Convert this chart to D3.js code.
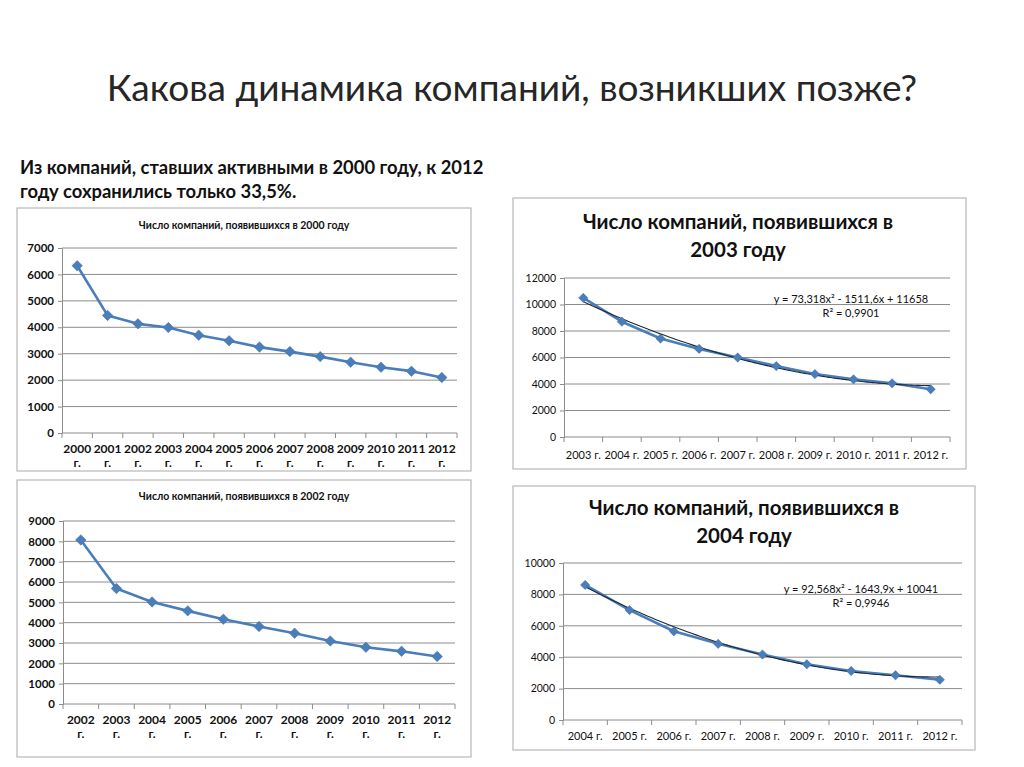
<!DOCTYPE html>
<html lang="ru">
<meta charset="utf-8">
<head>
<title>Какова динамика компаний, возникших позже?</title>
<script src="https://d3js.org/d3.v7.min.js"></script>
<style>
  body { margin: 0; background: #fff; }
  svg { display: block; font-family: Lato, "Open Sans", sans-serif; }
</style>
</head>
<body>
<div id="chart"></div>
<script>
// --- data ---
const years2000 = ["2000","2001","2002","2003","2004","2005","2006","2007","2008","2009","2010","2011","2012"];
const values2000 = [6330, 4450, 4130, 3990, 3700, 3490, 3250, 3080, 2890, 2680, 2490, 2340, 2100];
const ticks2000 = [0, 1000, 2000, 3000, 4000, 5000, 6000, 7000];

const years2002 = ["2002","2003","2004","2005","2006","2007","2008","2009","2010","2011","2012"];
const values2002 = [8070, 5680, 5020, 4580, 4170, 3810, 3480, 3100, 2790, 2590, 2340];
const ticks2002 = [0, 1000, 2000, 3000, 4000, 5000, 6000, 7000, 8000, 9000];

const years2003 = ["2003","2004","2005","2006","2007","2008","2009","2010","2011","2012"];
const values2003 = [10500, 8700, 7430, 6650, 6000, 5350, 4750, 4350, 4050, 3600];
const ticks2003 = [0, 2000, 4000, 6000, 8000, 10000, 12000];
const trend2003 = [73.318, -1511.6, 11658];   // y = a x^2 + b x + c
const trendText2003 = ["y = 73,318x² - 1511,6x + 11658", "R² = 0,9901"];

const years2004 = ["2004","2005","2006","2007","2008","2009","2010","2011","2012"];
const values2004 = [8600, 7000, 5650, 4850, 4170, 3550, 3120, 2850, 2560];
const ticks2004 = [0, 2000, 4000, 6000, 8000, 10000];
const trend2004 = [92.568, -1643.9, 10041];
const trendText2004 = ["y = 92,568x² - 1643,9x + 10041", "R² = 0,9946"];

const W = 1024, H = 767;
const blue = "#4a7ebb";

const svg = d3.select("#chart").append("svg")
    .attr("width", W).attr("height", H);

svg.append("text")
    .attr("x", 512).attr("y", 101)
    .attr("text-anchor", "middle")
    .attr("font-size", 37)
    .attr("fill", "#262626")
    .text("Какова динамика компаний, возникших позже?");

svg.append("text")
    .attr("x", 20).attr("y", 174)
    .attr("font-size", 18.4).attr("font-weight", "bold").attr("fill", "#111")
    .selectAll("tspan")
    .data(["Из компаний, ставших активными в 2000 году, к 2012", "году сохранились только 33,5%."])
    .join("tspan")
    .attr("x", 20).attr("dy", (d, i) => i ? 24 : 0)
    .text(d => d);

function drawPanel(p) {
    let g = svg.append("g");
    g.append("rect")
        .attr("x", p.box[0]).attr("y", p.box[1])
        .attr("width", p.box[2]).attr("height", p.box[3])
        .attr("fill", "#fff").attr("stroke", "#b8b8b8").attr("stroke-width", 1.2);

    // title
    g.append("text")
        .attr("text-anchor", "middle")
        .attr("font-size", p.titleSize).attr("font-weight", "bold").attr("fill", "#111")
        .selectAll("tspan").data(p.title).join("tspan")
        .attr("x", p.titleX).attr("y", (d, i) => p.titleY + i * p.titleGap)
        .text(d => d);

    let x = d3.scaleBand().domain(p.years).range([p.left, p.right]);
    let y = d3.scaleLinear().domain([0, d3.max(p.ticks)]).range([p.bottom, p.top]);

    // gridlines
    g.append("g").selectAll("line").data(p.ticks.filter(t => t > 0)).join("line")
        .attr("x1", p.left).attr("x2", p.right)
        .attr("y1", d => y(d)).attr("y2", d => y(d))
        .attr("stroke", "#8c8c8c").attr("stroke-width", 1);

    // y axis
    let yAxis = g.append("g")
        .attr("transform", "translate(" + p.left + ",0)")
        .call(d3.axisLeft(y).tickValues(p.ticks).tickSize(4).tickPadding(4).tickFormat(d3.format("d")));
    yAxis.select(".domain").attr("stroke", "#8c8c8c");
    yAxis.selectAll(".tick line").attr("stroke", "#8c8c8c");
    yAxis.selectAll("text").attr("font-size", p.tickSize).attr("font-weight", p.tickWeight)
        .attr("fill", "#111").attr("font-family", "Lato, sans-serif");

    // x axis with ticks between categories
    let xg = g.append("g").attr("transform", "translate(0," + p.bottom + ")");
    xg.append("line").attr("x1", p.left).attr("x2", p.right)
        .attr("stroke", "#8c8c8c");
    let edges = p.years.map(d => x(d)).concat([p.right]);
    xg.selectAll("line.tk").data(edges).join("line")
        .attr("class", "tk")
        .attr("x1", d => d).attr("x2", d => d).attr("y1", 0).attr("y2", 5)
        .attr("stroke", "#8c8c8c");
    let ly = p.labelY - p.bottom;
    let lab = xg.selectAll("text.lab").data(p.years).join("text")
        .attr("class", "lab")
        .attr("text-anchor", "middle")
        .attr("font-size", p.xTickSize).attr("font-weight", p.tickWeight).attr("fill", "#111");
    if (p.twoLine) {
        lab.each(function (yr) {
            d3.select(this).selectAll("tspan").data([yr, "г."]).join("tspan")
                .attr("x", x(yr) + x.bandwidth() / 2)
                .attr("y", (d, i) => ly + i * 14)
                .text(d => d);
        });
    } else {
        lab.attr("x", d => x(d) + x.bandwidth() / 2).attr("y", ly)
            .text(d => d + " г.");
    }

    let cx = (d, i) => x(p.years[i]) + x.bandwidth() / 2;

    // data line
    let line = d3.line().x((d, i) => cx(d, i)).y(d => y(d));
    g.append("path").datum(p.values)
        .attr("d", line).attr("fill", "none")
        .attr("stroke", blue).attr("stroke-width", 2.6).attr("stroke-linejoin", "round");

    // trendline from the displayed polynomial
    if (p.trend) {
        let [a, b, c] = p.trend;
        let pts = d3.range(0, (p.years.length - 1) * 10 + 1).map(k => {
            let t = 1 + k / 10;
            return [x(p.years[0]) + x.bandwidth() / 2 + (t - 1) * x.step(), y(a * t * t + b * t + c)];
        });
        g.append("path").datum(pts)
            .attr("d", d3.line().curve(d3.curveMonotoneX))
            .attr("fill", "none").attr("stroke", "#1e2a3a").attr("stroke-width", 1.1);
        g.append("text")
            .attr("text-anchor", "middle").attr("font-size", 11).attr("fill", "#111")
            .selectAll("tspan").data(p.trendText).join("tspan")
            .attr("x", p.trendX).attr("y", (d, i) => p.trendY + i * 14)
            .text(d => d);
    }

    // diamond markers
    g.append("g").selectAll("path").data(p.values).join("path")
        .attr("transform", (d, i) => "translate(" + cx(d, i) + "," + y(d) + ")")
        .attr("d", d3.symbol(d3.symbolDiamond2 || d3.symbolDiamond, p.markSize))
        .attr("fill", blue).attr("stroke", "#3c6aa3").attr("stroke-width", 0.5);
}

drawPanel({
    box: [17, 208, 454, 263],
    title: ["Число компаний, появившихся  в 2000 году"], titleSize: 10.5, titleX: 244, titleY: 229, titleGap: 0,
    years: years2000, values: values2000, ticks: ticks2000,
    left: 62, right: 457, top: 248, bottom: 433,
    tickSize: 11.5, xTickSize: 12, tickWeight: "bold", twoLine: true, labelY: 453, markSize: 70
});

drawPanel({
    box: [17, 480, 454, 277],
    title: ["Число компаний, появившихся  в 2002 году"], titleSize: 10.5, titleX: 244, titleY: 500, titleGap: 0,
    years: years2002, values: values2002, ticks: ticks2002,
    left: 63, right: 455, top: 521, bottom: 704,
    tickSize: 11.5, xTickSize: 12, tickWeight: "bold", twoLine: true, labelY: 724, markSize: 70
});

drawPanel({
    box: [513, 198, 453, 271],
    title: ["Число компаний, появившихся в", "2003 году"], titleSize: 20.5, titleX: 738, titleY: 229, titleGap: 28,
    years: years2003, values: values2003, ticks: ticks2003,
    left: 564, right: 950, top: 278, bottom: 437,
    tickSize: 10.5, xTickSize: 11, tickWeight: "normal", twoLine: false, labelY: 459, markSize: 55,
    trend: trend2003, trendText: trendText2003, trendX: 851, trendY: 303
});

drawPanel({
    box: [513, 486, 462, 264],
    title: ["Число компаний, появившихся в", "2004 году"], titleSize: 20.5, titleX: 744, titleY: 515, titleGap: 28,
    years: years2004, values: values2004, ticks: ticks2004,
    left: 563, right: 962, top: 563, bottom: 720,
    tickSize: 10.5, xTickSize: 11, tickWeight: "normal", twoLine: false, labelY: 740, markSize: 55,
    trend: trend2004, trendText: trendText2004, trendX: 861, trendY: 593
});
</script>
</body>
</html>
